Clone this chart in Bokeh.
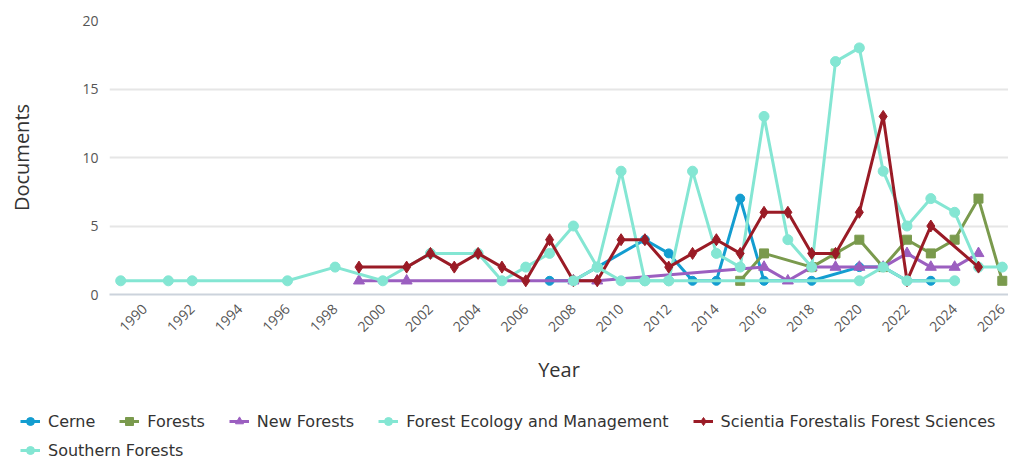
from bokeh.plotting import figure
from bokeh.models import Legend, LegendItem, Range1d, FixedTicker
from bokeh.layouts import column
from bokeh.embed import file_html
from bokeh.resources import INLINE
import math

# ---- data ----
cerne_years = [2007, 2008, 2009, 2011, 2012, 2013, 2014, 2015, 2016, 2018, 2020, 2021, 2022, 2023]
cerne_vals = [1, 1, 2, 4, 3, 1, 1, 7, 1, 1, 2, 2, 1, 1]

forests_years = [2015, 2016, 2018, 2019, 2020, 2021, 2022, 2023, 2024, 2025, 2026]
forests_vals = [1, 3, 2, 3, 4, 2, 4, 3, 4, 7, 1]

newf_years = [1999, 2001, 2008, 2009, 2016, 2017, 2018, 2019, 2020, 2021, 2022, 2023, 2024, 2025]
newf_vals = [1, 1, 1, 1, 2, 1, 2, 2, 2, 2, 3, 2, 2, 3]

fem_years = [1989, 1991, 1992, 1996, 1998, 2000, 2002, 2004, 2005, 2006, 2007, 2008, 2009, 2010,
             2011, 2012, 2013, 2014, 2015, 2016, 2017, 2018, 2019, 2020, 2021, 2022, 2023, 2024, 2025, 2026]
fem_vals = [1, 1, 1, 1, 2, 1, 3, 3, 1, 2, 3, 5, 2, 9, 1, 1, 9, 3, 2, 13, 4, 2, 17, 18, 9, 5, 7, 6, 2, 2]

sci_years = [1999, 2001, 2002, 2003, 2004, 2005, 2006, 2007, 2008, 2009, 2010, 2011, 2012, 2013,
             2014, 2015, 2016, 2017, 2018, 2019, 2020, 2021, 2022, 2023, 2025]
sci_vals = [2, 2, 3, 2, 3, 2, 1, 4, 1, 1, 4, 4, 2, 3, 4, 3, 6, 6, 3, 3, 6, 13, 1, 5, 2]

south_years = [2008, 2009, 2010, 2011, 2012, 2020, 2021, 2022, 2024]
south_vals = [1, 2, 1, 1, 1, 1, 2, 1, 1]

x_ticks = list(range(1990, 2027, 2))
y_ticks = [0, 5, 10, 15, 20]

series = [
    ("Cerne", cerne_years, cerne_vals, "#139dd0", "circle", 9),
    ("Forests", forests_years, forests_vals, "#7a9a4d", "square", 9),
    ("New Forests", newf_years, newf_vals, "#9b5fc0", "triangle", 11),
    ("Forest Ecology and Management", fem_years, fem_vals, "#84e6d3", "circle", 10),
    ("Scientia Forestalis Forest Sciences", sci_years, sci_vals, "#9a1b26", "diamond", 12),
    ("Southern Forests", south_years, south_vals, "#84e6d3", "circle", 10),
]

FONT = "Open Sans"
LFONT = "DejaVu Sans"

p = figure(width=1008, height=386, output_backend="svg", toolbar_location=None,
           x_range=Range1d(1988.53, 2026.26), y_range=Range1d(0, 20),
           min_border_left=109, min_border_right=0, min_border_top=20, min_border_bottom=92)
p.outline_line_color = None
p.background_fill_color = "white"
p.border_fill_color = "white"
p.frame_align = False

for name, xs, ys, col, mk, sz in series:
    p.line(xs, ys, line_color=col, line_width=3)
    p.scatter(xs, ys, marker=mk, size=sz, fill_color=col, line_color=col)

p.xaxis.ticker = FixedTicker(ticks=x_ticks)
p.yaxis.ticker = FixedTicker(ticks=y_ticks)
p.xaxis.major_label_orientation = math.pi / 4
p.xgrid.visible = False
p.ygrid.grid_line_color = "#e6e6e6"
p.ygrid.grid_line_width = 2

for ax in (p.xaxis, p.yaxis):
    ax.major_tick_line_color = None
    ax.minor_tick_line_color = None
    ax.major_label_text_font = FONT
    ax.major_label_text_font_size = "14px"
    ax.major_label_text_color = "#555555"
    ax.axis_label_text_font = FONT
    ax.axis_label_text_font_size = "20px"
    ax.axis_label_text_font_style = "normal"
    ax.axis_label_text_color = "#333333"

p.yaxis.axis_line_color = None
p.xaxis.axis_line_color = "#ccd3dc"
p.xaxis.axis_line_width = 2
p.yaxis.axis_label = "Documents"
p.xaxis.axis_label = "Year"
p.yaxis.major_label_standoff = 5
p.yaxis.axis_label_standoff = 44
p.xaxis.major_label_standoff = 6
p.xaxis.axis_label_standoff = 17

# legend strip below the chart (its data lies outside its own view range)
lf = figure(width=1008, height=74, output_backend="svg", toolbar_location=None,
            x_range=Range1d(0, 1), y_range=Range1d(0, 1),
            x_axis_location=None, y_axis_location=None,
            min_border_left=0, min_border_right=0, min_border_top=0, min_border_bottom=0)
lf.outline_line_color = None
lf.grid.visible = False
lf.frame_align = False

items = []
for name, xs, ys, col, mk, sz in series:
    r1 = lf.line(xs, ys, line_color=col, line_width=3)
    r2 = lf.scatter(xs, ys, marker=mk, size=min(sz, 9), fill_color=col, line_color=col)
    items.append(LegendItem(label=name, renderers=[r1, r2]))

def make_legend(its, loc):
    lg = Legend(items=its, orientation="horizontal", location=loc)
    lg.label_text_font = LFONT
    lg.label_text_font_size = "16px"
    lg.label_text_color = "#333333"
    lg.spacing = 24
    lg.glyph_width = 20
    lg.glyph_height = 20
    lg.label_standoff = 8
    lg.border_line_color = None
    lg.background_fill_alpha = 0
    lg.padding = 2
    lg.margin = 0
    return lg

lf.add_layout(make_legend(items[:5], (20, 29)))
lf.add_layout(make_legend(items[5:], (20, 0)))

open("out.html", "w").write(file_html(column(p, lf), INLINE))
